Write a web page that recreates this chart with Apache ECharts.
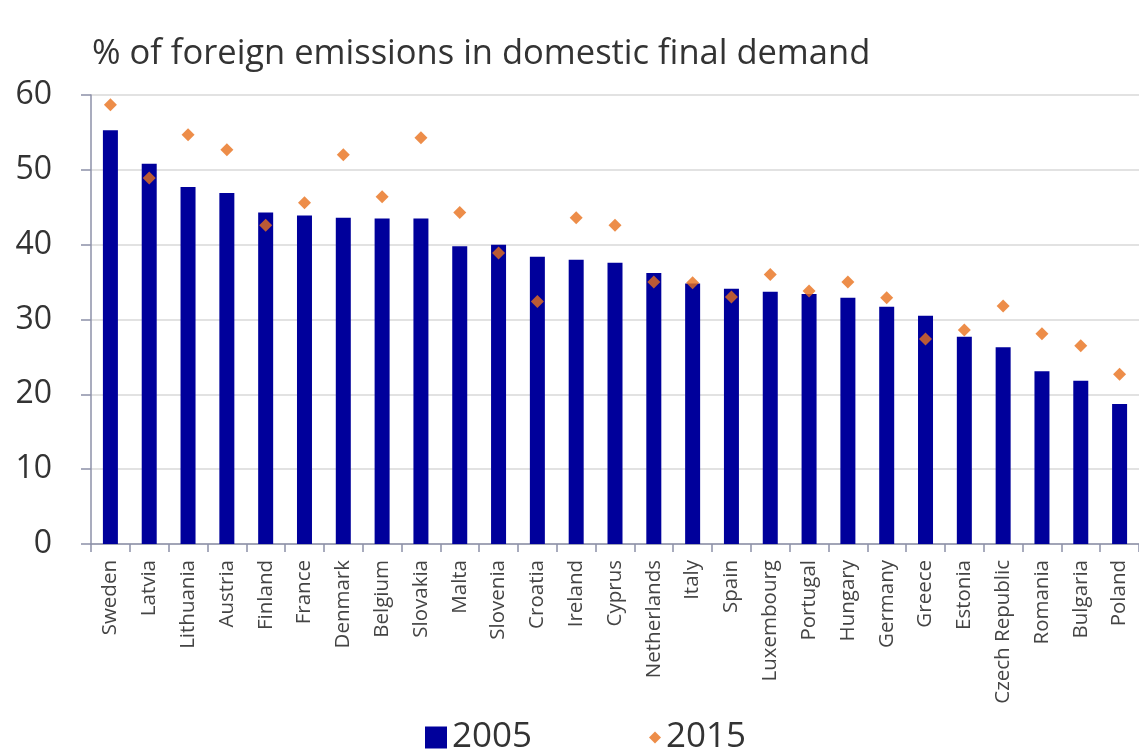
<!DOCTYPE html>
<html>
<head>
<meta charset="utf-8">
<script src="https://cdn.jsdelivr.net/npm/echarts@6/dist/echarts.min.js"></script>
<style>html,body{margin:0;padding:0;background:#fff;}#c{width:1139px;height:751px;}</style>
</head>
<body>
<div id="c"></div>
<script>
const categories = ["Sweden","Latvia","Lithuania","Austria","Finland","France","Denmark","Belgium","Slovakia","Malta","Slovenia","Croatia","Ireland","Cyprus","Netherlands","Italy","Spain","Luxembourg","Portugal","Hungary","Germany","Greece","Estonia","Czech Republic","Romania","Bulgaria","Poland"];
const values2005 = [55.3,50.8,47.7,46.9,44.3,43.9,43.6,43.5,43.5,39.8,40.0,38.4,38.0,37.6,36.2,34.8,34.1,33.7,33.4,32.9,31.7,30.5,27.7,26.3,23.1,21.8,18.7];
const values2015 = [58.7,48.9,54.7,52.7,42.6,45.6,52.0,46.4,54.3,44.3,38.9,32.4,43.6,42.6,35.0,34.9,33.0,36.0,33.8,35.0,32.9,27.4,28.6,31.8,28.1,26.5,22.7];
const yTicks = [0,10,20,30,40,50,60];
const titleText = "% of foreign emissions in domestic final demand";

const chart = echarts.init(document.getElementById('c'));
const font = "'Open Sans', 'Noto Sans', sans-serif";
chart.setOption({
  animation: false,
  backgroundColor: '#fff',
  title: {
    text: titleText, left: 87, top: 32,
    textStyle: {fontFamily: font, fontSize: 34.5, fontWeight: 'normal', color: '#333'}
  },
  legend: [{
    data: [{name: '2005', icon: 'rect'}], left: 420, top: 715, itemWidth: 22, itemHeight: 22, itemGap: 8,
    textStyle: {fontFamily: font, fontSize: 35, color: '#333'}
  },{
    data: [{name: '2015', icon: 'diamond'}], left: 644, top: 715, itemWidth: 12, itemHeight: 12, itemGap: 8,
    textStyle: {fontFamily: font, fontSize: 35, color: '#333'}
  }],
  grid: {left: 91, right: 0, top: 95, bottom: 207, containLabel: false},
  xAxis: {
    type: 'category', data: categories,
    axisLine: {lineStyle: {color: '#8c90a8', width: 1.5}},
    axisTick: {show: true, length: 8, lineStyle: {color: '#8c90a8', width: 1.5}},
    axisLabel: {rotate: 90, interval: 0, fontFamily: font, fontSize: 20.5, color: '#444', margin: 16}
  },
  yAxis: {
    type: 'value', min: 0, max: 60, interval: 10,
    axisLine: {show: true, lineStyle: {color: '#8c90a8', width: 1.5}},
    axisTick: {show: true, length: 10, lineStyle: {color: '#8c90a8', width: 1.5}},
    splitLine: {lineStyle: {color: '#e2e2e2', width: 2}},
    axisLabel: {fontFamily: font, fontSize: 32, color: '#333', margin: 39,
      formatter: v => yTicks.includes(v) ? String(v) : ''}
  },
  series: [{
    name: '2005', type: 'bar', data: values2005, barWidth: 15,
    itemStyle: {color: '#00009b'}
  },{
    name: '2015', type: 'scatter', data: values2015, symbol: 'diamond', symbolSize: 13,
    itemStyle: {color: '#e8701c'}, z: 5
  }]
});
</script>
</body>
</html>
